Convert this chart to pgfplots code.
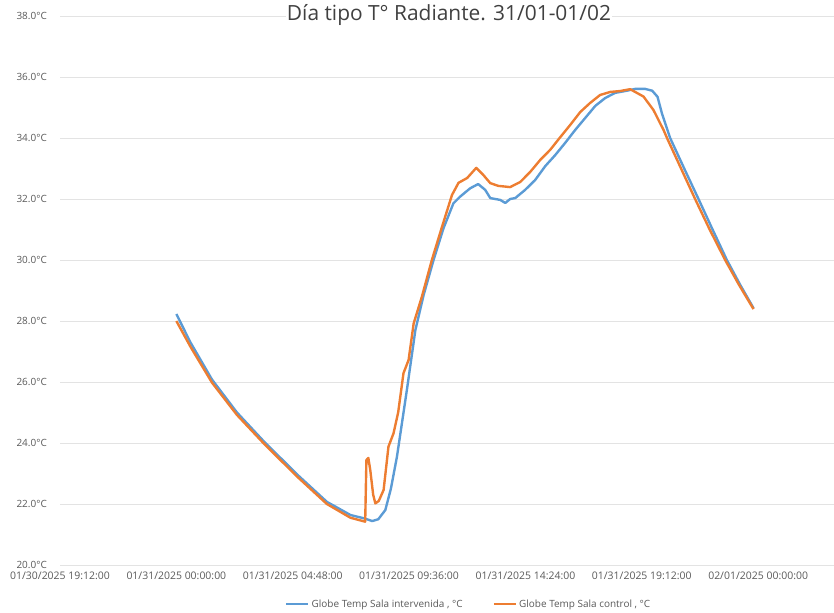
\documentclass[border=0pt]{standalone}
\usepackage{fontspec}
\setmainfont{Open Sans}
\usepackage{pgfplots}
\pgfplotsset{compat=1.18}
\definecolor{cblue}{HTML}{5B9BD5}
\definecolor{corange}{HTML}{ED7D31}
\definecolor{txtgray}{HTML}{595959}
\begin{document}
\begin{tikzpicture}
\path[use as bounding box] (0,0) rectangle (834bp,613bp);
\begin{axis}[
  at={(60bp,48bp)}, anchor=south west,
  scale only axis, width=774bp, height=549bp,
  xmin=-4.8, xmax=27.13, ymin=20, ymax=38,
  axis line style={draw=none},
  major tick length=0pt,
  ymajorgrids, grid style={gray!22, line width=0.8pt},
  xtick={-4.8,0,4.8,9.6,14.4,19.2,24},
  xticklabels={01/30/2025 19:12:00,01/31/2025 00:00:00,01/31/2025 04:48:00,01/31/2025 09:36:00,01/31/2025 14:24:00,01/31/2025 19:12:00,02/01/2025 00:00:00},
  ytick={20,22,...,38},
  yticklabels={20.0°C,22.0°C,24.0°C,26.0°C,28.0°C,30.0°C,32.0°C,34.0°C,36.0°C,38.0°C},
  xticklabel style={font=\fontsize{10.5}{12}\selectfont, text=txtgray, anchor=north, inner sep=0pt, yshift=-7bp},
  yticklabel style={font=\fontsize{10}{12}\selectfont, text=txtgray, anchor=east, inner sep=0pt, xshift=-13bp},
  legend style={at={(0.528,-0.071)}, anchor=center, draw=none, fill=none,
    legend columns=2, font=\fontsize{10}{12}\selectfont, text=txtgray,
    /tikz/every even column/.append style={column sep=28bp}},
  legend image code/.code={\draw[#1, line width=2.6pt] (0bp,0bp) -- (22bp,0bp);},
]
\addplot[cblue, line width=2.4pt, line join=round] coordinates {
(0,28.23) (0.58,27.3) (1.47,26.08) (2.50,25.0) (3.60,24.06) (4.98,22.97)
(6.21,22.07) (7.18,21.64) (7.79,21.52) (8.08,21.44) (8.33,21.50) (8.62,21.8)
(8.85,22.5) (9.10,23.55) (9.51,25.74) (9.86,27.70) (10.20,28.85) (10.61,30.0)
(11.02,31.04) (11.43,31.86) (11.71,32.08) (12.12,32.35) (12.45,32.49)
(12.74,32.30) (12.95,32.03) (13.36,31.97) (13.57,31.87) (13.77,32.00) (13.98,32.03)
(14.39,32.30) (14.80,32.62) (15.22,33.08) (15.63,33.44) (16.04,33.84) (16.45,34.26)
(16.87,34.66) (17.28,35.05) (17.69,35.31) (18.10,35.48) (18.52,35.54) (18.93,35.61)
(19.34,35.61) (19.63,35.55) (19.85,35.35) (20.03,34.81) (20.37,34.0) (20.95,33.0)
(21.54,32.0) (22.12,31.0) (22.71,30.0) (23.25,29.2) (23.81,28.42)
};
\addlegendentry{Globe Temp Sala intervenida , °C}
\addplot[corange, line width=2.4pt, line join=round] coordinates {
(0,28.0) (0.58,27.16) (1.47,25.98) (2.50,24.92) (3.60,23.99) (4.98,22.90)
(6.21,22.0) (7.18,21.55) (7.79,21.42) (7.84,23.44) (7.92,23.51) (8.00,23.11)
(8.12,22.30) (8.21,22.02) (8.35,22.1) (8.55,22.46) (8.75,23.88) (8.96,24.32)
(9.15,25.0) (9.37,26.29) (9.58,26.72) (9.79,27.92) (10.13,28.80) (10.54,30.0)
(10.96,31.09) (11.37,32.13) (11.64,32.53) (12.00,32.69) (12.37,33.02) (12.66,32.79)
(12.95,32.52) (13.28,32.43) (13.77,32.39) (14.19,32.56) (14.60,32.89) (15.01,33.28)
(15.42,33.61) (15.84,34.03) (16.25,34.43) (16.66,34.85) (17.07,35.15) (17.48,35.41)
(17.90,35.51) (18.31,35.54) (18.72,35.6) (19.27,35.36) (19.68,34.92) (20.10,34.26)
(20.24,34.0) (20.82,33.0) (21.40,32.0) (22.0,31.0) (22.64,30.0) (23.2,29.2) (23.81,28.39)
};
\addlegendentry{Globe Temp Sala control , °C}
\end{axis}
\node[fill=white, inner sep=1bp, text=black!75, font=\fontsize{21}{24}\selectfont] at (449bp,598bp) {Día tipo T° Radiante. 31/01-01/02};
\end{tikzpicture}
\end{document}
